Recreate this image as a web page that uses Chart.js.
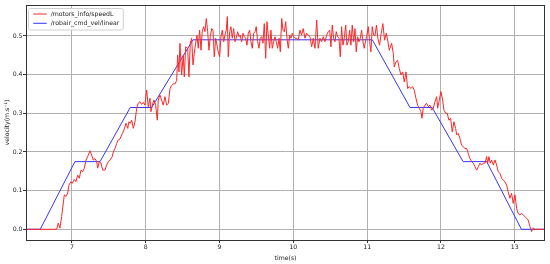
<!DOCTYPE html>
<html>
<head>
<meta charset="utf-8">
<script src="https://cdn.jsdelivr.net/npm/chart.js@4"></script>
<style>
  body { margin: 0; background: #fff; }
  canvas { display: block; }
</style>
</head>
<body>
<canvas id="grafico" width="550" height="264"></canvas>
<script>
const speedLabel = "/motors_info/speedL";
const cmdLabel = "/robair_cmd_vel/linear";

const speedTimes = [
  6.377, 6.770, 6.793, 6.814, 6.837, 6.860, 6.896, 6.919, 6.942, 6.959, 6.986, 7.004, 7.031, 7.054, 7.077, 7.099,
  7.122, 7.145, 7.167, 7.190, 7.217, 7.244, 7.267, 7.289, 7.312, 7.335, 7.348, 7.370, 7.393, 7.416, 7.447, 7.470,
  7.492, 7.515, 7.546, 7.560, 7.583, 7.606, 7.627, 7.650, 7.673, 7.695, 7.718, 7.732, 7.755, 7.772, 7.790, 7.809,
  7.831, 7.854, 7.877, 7.898, 7.921, 7.944, 7.966, 7.989, 8.012, 8.034, 8.057, 8.070, 8.088, 8.111, 8.134, 8.156,
  8.169, 8.192, 8.215, 8.237, 8.260, 8.283, 8.306, 8.328, 8.351, 8.373, 8.396, 8.419, 8.432, 8.450, 8.463, 8.486,
  8.508, 8.522, 8.541, 8.568, 8.585, 8.603, 8.622, 8.640, 8.657, 8.676, 8.694, 8.711, 8.730, 8.748, 8.765, 8.784,
  8.802, 8.820, 8.839, 8.856, 8.874, 8.893, 8.911, 8.928, 8.947, 8.982, 9.001, 9.019, 9.037, 9.056, 9.073, 9.091,
  9.105, 9.118, 9.137, 9.154, 9.172, 9.191, 9.209, 9.226, 9.245, 9.263, 9.280, 9.299, 9.317, 9.335, 9.354, 9.371,
  9.389, 9.408, 9.425, 9.443, 9.462, 9.480, 9.497, 9.516, 9.534, 9.551, 9.570, 9.588, 9.606, 9.625, 9.642, 9.660,
  9.679, 9.696, 9.714, 9.733, 9.751, 9.768, 9.787, 9.805, 9.823, 9.842, 9.859, 9.877, 9.896, 9.913, 9.931, 9.950,
  9.967, 9.985, 10.004, 10.022, 10.045, 10.066, 10.089, 10.112, 10.134, 10.157, 10.180, 10.202, 10.225, 10.248, 10.270, 10.293,
  10.316, 10.337, 10.360, 10.383, 10.405, 10.428, 10.451, 10.473, 10.492, 10.509, 10.527, 10.546, 10.564, 10.581, 10.600, 10.618,
  10.636, 10.654, 10.672, 10.690, 10.709, 10.726, 10.744, 10.763, 10.780, 10.798, 10.817, 10.835, 10.852, 10.871, 10.889, 10.907,
  10.925, 10.943, 10.961, 10.980, 10.997, 11.015, 11.034, 11.051, 11.069, 11.088, 11.106, 11.126, 11.145, 11.168, 11.191, 11.213,
  11.236, 11.259, 11.282, 11.300, 11.332, 11.354, 11.367, 11.390, 11.413, 11.435, 11.458, 11.481, 11.503, 11.526, 11.549, 11.570,
  11.593, 11.616, 11.638, 11.661, 11.684, 11.706, 11.729, 11.743, 11.760, 11.783, 11.806, 11.828, 11.851, 11.874, 11.896, 11.919,
  11.942, 11.955, 11.977, 12.000, 12.023, 12.041, 12.064, 12.085, 12.108, 12.131, 12.153, 12.176, 12.199, 12.213, 12.234, 12.257,
  12.280, 12.302, 12.325, 12.348, 12.370, 12.393, 12.416, 12.438, 12.461, 12.484, 12.507, 12.528, 12.551, 12.573, 12.596, 12.619,
  12.633, 12.650, 12.668, 12.687, 12.710, 12.732, 12.755, 12.776, 12.799, 12.822, 12.844, 12.867, 12.890, 12.911, 12.935, 12.957,
  12.979, 13.003, 13.026, 13.047, 13.070, 13.093, 13.115, 13.138, 13.161, 13.182, 13.206, 13.228, 13.250, 13.274, 13.410
];
const speedValues = [
  0, 0, 0.0, 0.016, 0.003, 0.033, 0.089, 0.085, 0.094, 0.114, 0.123, 0.119, 0.129, 0.123, 0.140, 0.132,
  0.153, 0.149, 0.158, 0.179, 0.190, 0.203, 0.192, 0.179, 0.183, 0.175, 0.158, 0.175, 0.171, 0.153, 0.153, 0.166,
  0.175, 0.179, 0.188, 0.200, 0.209, 0.222, 0.231, 0.233, 0.244, 0.252, 0.265, 0.274, 0.261, 0.278, 0.274, 0.282,
  0.261, 0.278, 0.313, 0.326, 0.330, 0.323, 0.328, 0.321, 0.360, 0.317, 0.339, 0.304, 0.321, 0.334, 0.321, 0.282,
  0.334, 0.347, 0.334, 0.321, 0.343, 0.321, 0.326, 0.364, 0.372, 0.376, 0.376, 0.385, 0.450, 0.407, 0.481, 0.399,
  0.450, 0.394, 0.472, 0.468, 0.394, 0.481, 0.494, 0.425, 0.455, 0.481, 0.502, 0.468, 0.515, 0.463, 0.511, 0.524,
  0.511, 0.545, 0.511, 0.463, 0.498, 0.519, 0.515, 0.446, 0.494, 0.459, 0.446, 0.498, 0.515, 0.485, 0.502, 0.515,
  0.550, 0.446, 0.511, 0.524, 0.494, 0.519, 0.485, 0.494, 0.511, 0.498, 0.502, 0.485, 0.507, 0.498, 0.494, 0.476,
  0.507, 0.515, 0.485, 0.468, 0.507, 0.511, 0.524, 0.485, 0.468, 0.494, 0.498, 0.481, 0.532, 0.442, 0.537, 0.502,
  0.468, 0.515, 0.468, 0.485, 0.498, 0.485, 0.468, 0.494, 0.459, 0.545, 0.515, 0.511, 0.537, 0.494, 0.468, 0.502,
  0.494, 0.507, 0.498, 0.494, 0.494, 0.489, 0.515, 0.502, 0.519, 0.494, 0.507, 0.502, 0.498, 0.472, 0.494, 0.468,
  0.541, 0.468, 0.494, 0.485, 0.498, 0.485, 0.502, 0.511, 0.515, 0.472, 0.528, 0.494, 0.485, 0.511, 0.498, 0.494,
  0.446, 0.524, 0.476, 0.494, 0.528, 0.476, 0.485, 0.515, 0.476, 0.528, 0.485, 0.519, 0.459, 0.498, 0.485, 0.494,
  0.515, 0.485, 0.468, 0.489, 0.502, 0.524, 0.485, 0.459, 0.524, 0.502, 0.500, 0.528, 0.494, 0.476, 0.507, 0.532,
  0.489, 0.507, 0.485, 0.463, 0.481, 0.455, 0.420, 0.433, 0.437, 0.416, 0.399, 0.407, 0.381, 0.407, 0.364, 0.369,
  0.364, 0.369, 0.360, 0.339, 0.321, 0.313, 0.304, 0.287, 0.313, 0.321, 0.326, 0.317, 0.321, 0.308, 0.313, 0.330,
  0.343, 0.313, 0.334, 0.356, 0.334, 0.308, 0.300, 0.300, 0.282, 0.287, 0.252, 0.278, 0.261, 0.244, 0.248, 0.235,
  0.218, 0.213, 0.209, 0.209, 0.196, 0.183, 0.175, 0.171, 0.162, 0.153, 0.162, 0.171, 0.166, 0.171, 0.171, 0.188,
  0.171, 0.188, 0.171, 0.179, 0.166, 0.179, 0.166, 0.149, 0.145, 0.132, 0.127, 0.123, 0.114, 0.097, 0.080, 0.093,
  0.067, 0.089, 0.054, 0.041, 0.037, 0.041, 0.037, 0.033, 0.028, 0.024, 0.007, -0.006, 0.003, 0, 0
];

const cmdTimes = [6.377, 6.57, 7.04, 7.38, 7.79, 8.08, 8.64, 11.07, 11.58, 11.88, 12.30, 12.62, 13.09, 13.410];
const cmdValues = [0, 0, 0.175, 0.175, 0.315, 0.315, 0.49, 0.49, 0.315, 0.315, 0.175, 0.175, 0, 0];

const xTitulo = "time(s)";
const yTitulo = "velocity(m.s⁻¹)";

const fuente = "DejaVu Sans";
const tam = 6.2;

function puntos(xs, ys) {
    return xs.map((x, i) => ({ x: x, y: ys[i] }));
}

// marco completo y leyenda estilo matplotlib
const marco = {
    id: "marco",
    afterDraw(chart) {
        const ctx = chart.ctx;
        const a = chart.chartArea;
        ctx.save();
        ctx.strokeStyle = "#333";
        ctx.lineWidth = 1;
        ctx.strokeRect(Math.round(a.left) + 0.5, Math.round(a.top) + 0.5,
            Math.round(a.right - a.left) - 1, Math.round(a.bottom - a.top));

        ctx.font = tam + "px '" + fuente + "'";
        const labels = chart.data.datasets.map(d => d.label);
        const ancho = Math.max(...labels.map(l => ctx.measureText(l).width));
        const x0 = 28.5, y0 = 8.5;
        const w = 50.7 - x0 + ancho + 4, h = 21.5;
        ctx.beginPath();
        ctx.roundRect(x0, y0, w, h, 2);
        ctx.fillStyle = "rgba(255,255,255,0.85)";
        ctx.fill();
        ctx.strokeStyle = "#d0d0d0";
        ctx.stroke();

        const filas = [14, 23.3];
        chart.data.datasets.forEach((d, i) => {
            ctx.beginPath();
            ctx.moveTo(33.3, filas[i]);
            ctx.lineTo(46.7, filas[i]);
            ctx.strokeStyle = d.borderColor;
            ctx.lineWidth = 1;
            ctx.stroke();
            ctx.fillStyle = "#222";
            ctx.textBaseline = "middle";
            ctx.fillText(d.label, 50.7, filas[i]);
        });
        ctx.restore();
    }
};

const canva = document.getElementById("grafico");

new Chart(canva, {
    type: "line",
    data: {
        datasets: [
            {
                label: speedLabel,
                data: puntos(speedTimes, speedValues),
                borderColor: "#ff2626",
                borderWidth: 1,
                pointRadius: 0,
                tension: 0
            },
            {
                label: cmdLabel,
                data: puntos(cmdTimes, cmdValues),
                borderColor: "#3535ff",
                borderWidth: 1,
                pointRadius: 0,
                tension: 0
            }
        ]
    },
    options: {
        responsive: false,
        animation: false,
        devicePixelRatio: 1,
        layout: { padding: { top: 5, right: 5, left: 0, bottom: 0 } },
        plugins: {
            legend: { display: false },
            tooltip: { enabled: false }
        },
        scales: {
            x: {
                type: "linear",
                min: 6.377,
                max: 13.41,
                afterFit: s => { s.height = 24; },
                border: { display: false },
                grid: { color: "#b0b0b0", tickColor: "#333", tickLength: 3 },
                ticks: {
                    stepSize: 1,
                    includeBounds: false,
                    padding: 0.5,
                    maxRotation: 0,
                    color: "#222",
                    font: { family: fuente, size: tam }
                },
                title: {
                    display: true,
                    text: xTitulo,
                    color: "#222",
                    padding: { top: 0, bottom: 2.3 },
                    font: { family: fuente, size: tam }
                }
            },
            y: {
                min: -0.0277,
                max: 0.580,
                afterFit: s => { s.width = 26; },
                border: { display: false },
                grid: { color: "#b0b0b0", tickColor: "#333", tickLength: 3 },
                ticks: {
                    stepSize: 0.1,
                    includeBounds: false,
                    padding: 0.5,
                    color: "#222",
                    font: { family: fuente, size: tam },
                    callback: v => v.toFixed(1)
                },
                title: {
                    display: true,
                    text: yTitulo,
                    color: "#222",
                    padding: { top: 3.3, bottom: 0 },
                    font: { family: fuente, size: tam }
                }
            }
        }
    },
    plugins: [marco]
});
</script>
</body>
</html>
